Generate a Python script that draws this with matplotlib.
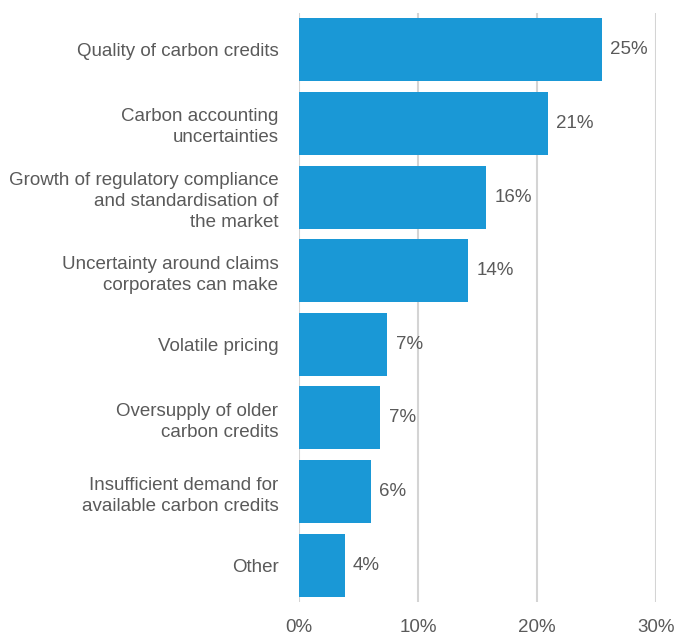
import numpy as np
import matplotlib.pyplot as plt

plt.rcParams['font.family'] = ['Liberation Sans', 'DejaVu Sans']

categories = [
    "Quality of carbon credits",
    "Carbon accounting\nuncertainties",
    "Growth of regulatory compliance\nand standardisation of\nthe market",
    "Uncertainty around claims\ncorporates can make",
    "Volatile pricing",
    "Oversupply of older\ncarbon credits",
    "Insufficient demand for\navailable carbon credits",
    "Other",
]
shares = [25.4, 20.9, 15.7, 14.2, 7.4, 6.8, 6.0, 3.8]
xticks = [0, 10, 20, 30]

bar_color = "#1a98d6"
text_color = "#5a5a5a"
grid_color = "#d4d4d4"
fs = 13.5

fig = plt.figure(figsize=(6.81, 6.35), dpi=100)
ax = fig.add_axes([0.4395, 0.052, 0.5242, 0.9276])

y = np.arange(len(categories))
bars = ax.barh(y, shares, height=0.856, color=bar_color, zorder=2)
ax.bar_label(bars, labels=["{:.0f}%".format(v) for v in shares],
             padding=6, fontsize=fs, color=text_color)

ax.set_ylim(len(categories) - 0.5, -0.5)
ax.set_xlim(0, 30)
ax.set_yticks(y)
ax.set_yticklabels(categories, fontsize=fs, color=text_color)
for lbl in ax.get_yticklabels():
    lbl.set_multialignment('right')
    lbl.set_linespacing(1.31)
ax.set_xticks(xticks)
ax.set_xticklabels(["{}%".format(t) for t in xticks], fontsize=fs, color=text_color)
ax.tick_params(axis='y', length=0, pad=15)
ax.tick_params(axis='x', length=0, pad=12)

ax.xaxis.grid(True, color=grid_color, linewidth=1.5, zorder=0)
ax.set_axisbelow(True)
for s in ax.spines.values():
    s.set_visible(False)

fig.savefig("out.png", dpi=100)
